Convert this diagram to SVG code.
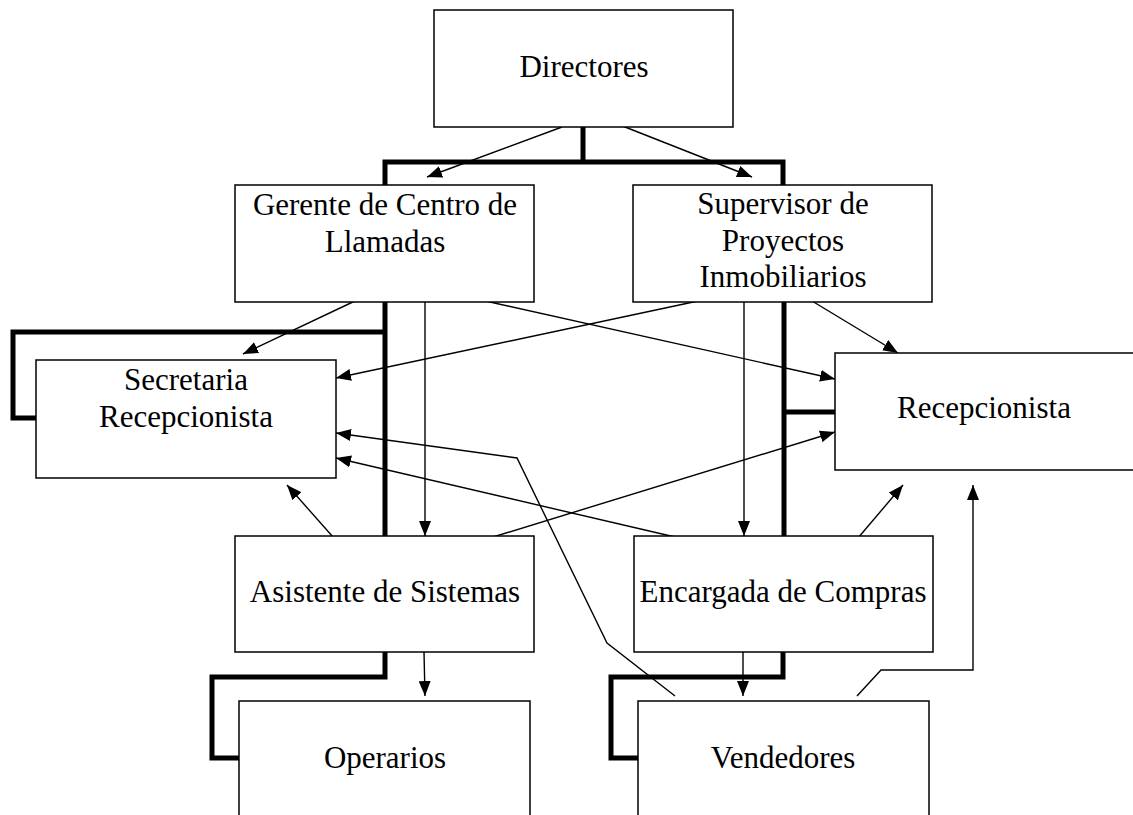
<svg xmlns="http://www.w3.org/2000/svg" width="1133" height="815" viewBox="0 0 1133 815">
<style>
.box{fill:#fff;stroke:#000;stroke-width:1.5}
.t{font-family:"Liberation Serif","Times New Roman",serif;font-size:31px;fill:#000;text-anchor:middle}
.thick{fill:none;stroke:#000;stroke-width:5;stroke-linejoin:miter}
.thin{fill:none;stroke:#000;stroke-width:1.4}
.arr{fill:none;stroke:#000;stroke-width:1.4;marker-end:url(#ah)}
</style>
<defs>
<marker id="ah" markerUnits="userSpaceOnUse" markerWidth="16" markerHeight="12" refX="15" refY="6" orient="auto">
<path d="M0,0 L15,6 L0,12 z" fill="#000"/>
</marker>
</defs>
<rect width="1133" height="815" fill="#fff"/>
<g id="connectors">
<path class="thick" d="M583,127 V162 M385,185 V162 H783 V185"/>
<path class="thick" d="M385,302 V536 M385,332 H13 V418 H36"/>
<path class="thick" d="M784,302 V536 M784,412 H835"/>
<path class="thick" d="M385,652 V677 H212 V758 H239"/>
<path class="thick" d="M783,652 V677 H611 V758 H638"/>
<line class="arr" x1="562" y1="127" x2="427" y2="177"/>
<line class="arr" x1="620" y1="125" x2="752" y2="177"/>
<line class="arr" x1="357" y1="300" x2="243" y2="354"/>
<line class="arr" x1="425" y1="302" x2="425" y2="536"/>
<line class="arr" x1="472" y1="298" x2="835" y2="379"/>
<line class="arr" x1="698" y1="301" x2="336" y2="378"/>
<line class="arr" x1="744" y1="302" x2="744" y2="536"/>
<line class="arr" x1="812" y1="301" x2="898" y2="353"/>
<line class="arr" x1="333" y1="537" x2="287" y2="485"/>
<line class="arr" x1="493" y1="537" x2="835" y2="432"/>
<line class="arr" x1="675" y1="537" x2="336" y2="458"/>
<line class="arr" x1="858" y1="538" x2="903" y2="485"/>
<line class="arr" x1="424" y1="652" x2="425" y2="696"/>
<line class="arr" x1="743" y1="652" x2="743" y2="696"/>
<polyline class="arr" points="675,696 607,643 517,458 336,433"/>
<polyline class="arr" points="857,696 881,670 973,670 973,485"/>
</g>
<g id="directores">
<rect class="box" x="434" y="10" width="299" height="117"/>
<text class="t" x="584" y="77">Directores</text>
</g>
<g id="gerente">
<rect class="box" x="235" y="185" width="299" height="117"/>
<text class="t" x="385" y="215">Gerente de Centro de</text>
<text class="t" x="385" y="252">Llamadas</text>
</g>
<g id="supervisor">
<rect class="box" x="633" y="185" width="299" height="117"/>
<text class="t" x="783" y="214">Supervisor de</text>
<text class="t" x="783" y="251">Proyectos</text>
<text class="t" x="783" y="287">Inmobiliarios</text>
</g>
<g id="secretaria">
<rect class="box" x="36" y="360" width="300" height="118"/>
<text class="t" x="186" y="390">Secretaria</text>
<text class="t" x="186" y="427">Recepcionista</text>
</g>
<g id="recepcionista">
<rect class="box" x="835" y="353" width="300" height="117"/>
<text class="t" x="984" y="418">Recepcionista</text>
</g>
<g id="asistente">
<rect class="box" x="235" y="536" width="299" height="116"/>
<text class="t" x="385" y="602">Asistente de Sistemas</text>
</g>
<g id="encargada">
<rect class="box" x="634" y="536" width="299" height="116"/>
<text class="t" x="783" y="602">Encargada de Compras</text>
</g>
<g id="operarios">
<rect class="box" x="239" y="701" width="291" height="130"/>
<text class="t" x="385" y="768">Operarios</text>
</g>
<g id="vendedores">
<rect class="box" x="638" y="701" width="291" height="130"/>
<text class="t" x="783" y="768">Vendedores</text>
</g>
</svg>
